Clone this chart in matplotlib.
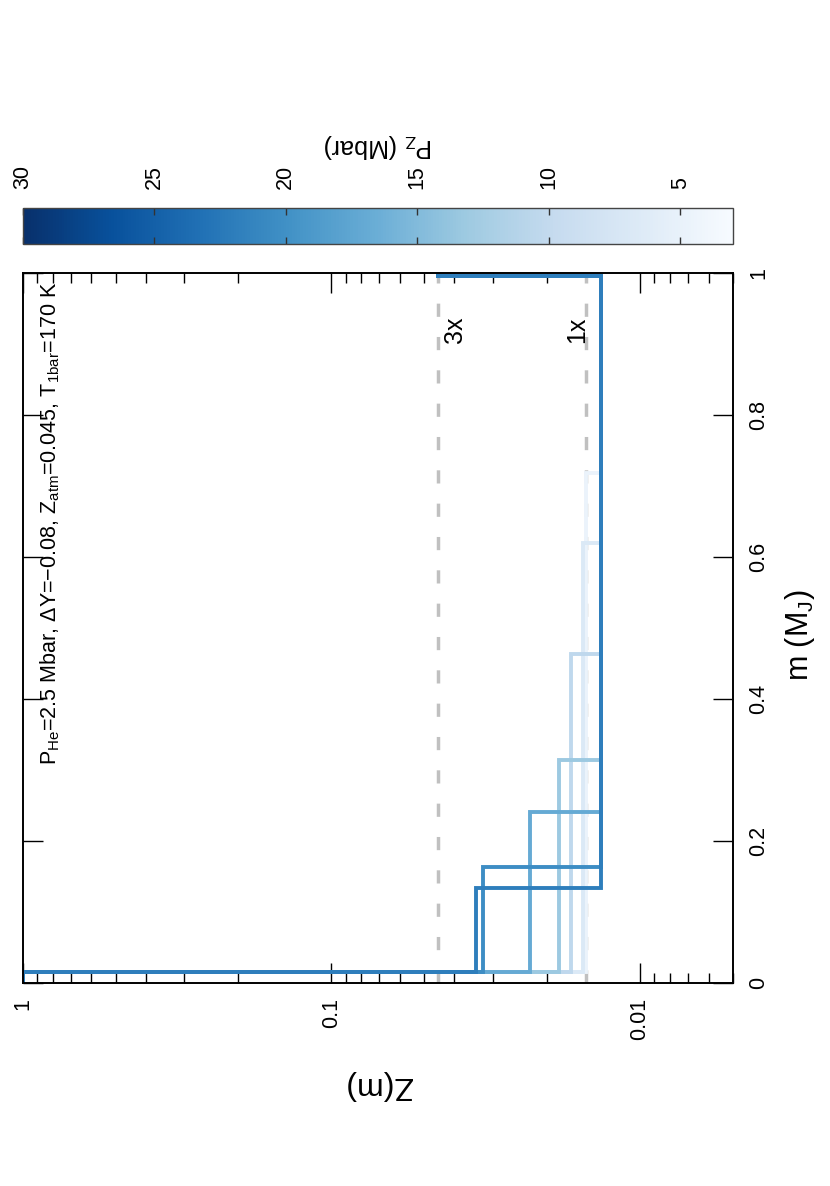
import numpy as np
import matplotlib
matplotlib.use('Agg')
import matplotlib as mpl
from matplotlib import pyplot as plt

plt.rcParams['font.family'] = ['Liberation Sans', 'DejaVu Sans']
plt.rcParams['mathtext.fontset'] = 'custom'
plt.rcParams['mathtext.rm'] = 'Liberation Sans'
plt.rcParams['mathtext.it'] = 'Liberation Sans:italic'
plt.rcParams['mathtext.default'] = 'regular'

# step profiles Z(m), one per P_Z (Mbar)
pz = [4.6, 6.8, 10.3, 13.3, 17.0, 20.3, 21.9]
m_trans = [0.718, 0.620, 0.463, 0.314, 0.241, 0.163, 0.134]
z_inner = [0.0150, 0.0153, 0.0168, 0.0183, 0.0228, 0.0323, 0.0340]
m_core = 0.016
z_core = 1.0
z_outer = 0.0134
m_atm = 0.996
z_atm = 0.045

# reference lines (solar multiples)
ref_z = [0.015, 0.045]
ref_lab = ['1x', '3x']

z_ticks = [1, 0.1, 0.01]
z_ticklabels = ['1', '0.1', '0.01']
m_ticks = [0, 0.2, 0.4, 0.6, 0.8, 1]
m_ticklabels = ['0', '0.2', '0.4', '0.6', '0.8', '1']
cb_ticks = [5, 10, 15, 20, 25, 30]

W, H = 830, 1186
fig = plt.figure(figsize=(W / 100, H / 100), dpi=100)
x0, x1 = 22.7, 733
y0, y1 = 273, 983
ax = fig.add_axes([x0 / W, 1 - y1 / H, (x1 - x0) / W, (y1 - y0) / H])
cax = fig.add_axes([x0 / W, 1 - 244 / H, (x1 - x0) / W, 36 / H])

cmap = plt.get_cmap('Blues')
norm = mpl.colors.Normalize(vmin=3, vmax=30)

for z in ref_z:
    ax.plot([z, z], [0, 1], color='#c0c0c0', lw=2.5, ls=(0, (3.8, 5.8)), zorder=1)

for p, mt, zi in zip(pz, m_trans, z_inner):
    edges = [0, m_core, mt, m_atm, 1]
    vals = [z_core, zi, z_outer, z_atm]
    ax.stairs(vals, edges, orientation='horizontal', baseline=None,
              color=cmap(norm(p)), lw=2.8, zorder=2)

ax.text(0.609, 0.92, ref_lab[1], transform=ax.transAxes, rotation=90,
        ha='center', va='center', fontsize=18)
ax.text(0.781, 0.92, ref_lab[0], transform=ax.transAxes, rotation=90,
        ha='center', va='center', fontsize=18)
ax.text(0.022, 0.987,
        r'P$_{He}$=2.5 Mbar, ΔY=−0.08, Z$_{atm}$=0.045, T$_{1bar}$=170 K',
        transform=ax.transAxes, rotation=90, ha='left', va='top', fontsize=15.5)

ax.set_xscale('log')
ax.set_xlim(1, 0.005)
ax.set_ylim(0, 1)
ax.set_xticks(z_ticks, z_ticklabels)
ax.xaxis.set_minor_locator(mpl.ticker.LogLocator(subs=np.arange(2, 10)))
ax.xaxis.set_minor_formatter(mpl.ticker.NullFormatter())
ax.set_yticks(m_ticks, m_ticklabels)
ax.tick_params(which='both', direction='in', top=True, bottom=True, left=True, right=True,
               labelleft=False, labelright=True, labelsize=15.5, width=1)
ax.tick_params(which='major', length=14.4, pad=11)
ax.tick_params(which='minor', length=7.2)
for lab in ax.get_xticklabels():
    lab.set_rotation(90)
for lab in ax.get_yticklabels():
    lab.set_rotation(90)
    lab.set_va('center')
for s in ax.spines.values():
    s.set_linewidth(1.4)

ax.set_xlabel('Z(m)', fontsize=23, rotation=180, va='center')
ax.xaxis.set_label_coords(0.5, -0.144)
ax.yaxis.set_label_position('right')
ax.set_ylabel(r'm (M$_J$)', fontsize=22, rotation=90, va='center')
ax.yaxis.set_label_coords(1.095, 0.49)

cb = mpl.colorbar.ColorbarBase(cax, cmap=cmap, norm=norm, orientation='horizontal')
cax.invert_xaxis()
cb.set_ticks(cb_ticks)
cb.outline.set_linewidth(1)
cb.outline.set_edgecolor('#444444')
cax.tick_params(direction='in', top=True, bottom=True, labeltop=True, labelbottom=False,
                length=5, width=1, color='#333333', labelsize=15.5, pad=14)
for lab in cax.get_xticklabels():
    lab.set_rotation(90)
cax.set_xlabel(r'P$_Z$ (Mbar)', fontsize=18, rotation=180, va='center')
cax.xaxis.set_label_coords(0.5, 2.72)

fig.savefig('out.png', dpi=100)
